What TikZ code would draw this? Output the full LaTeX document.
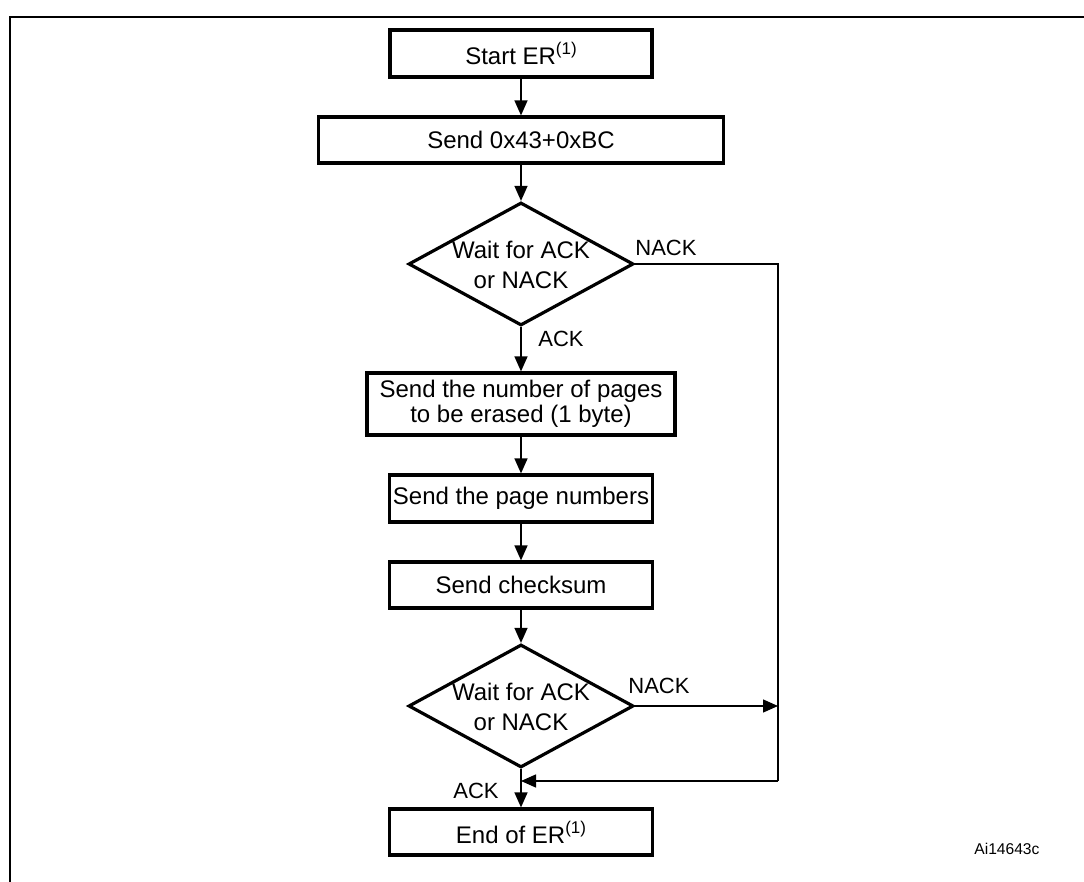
\documentclass[tikz,border=0pt]{standalone}
\usepackage{fontspec}
\setmainfont{Liberation Sans}
\usetikzlibrary{shapes.geometric,arrows.meta}
\newcommand\fcboxfont{\fontsize{12}{12.4}\selectfont}
\newcommand\fclabelfont{\fontsize{11}{13}\selectfont}
\newcommand\fcreffont{\fontsize{7.8}{9}\selectfont}
\newcommand\fcnote{\raisebox{0.42em}{\fontsize{8.5}{9}\selectfont(1)}}
\tikzset{
  stepbox/.style={draw, line width=1.6pt, inner sep=0pt, align=center, font=\fcboxfont},
  decision/.style={diamond, draw, line width=1.6pt, inner sep=0pt, minimum width=112.5pt, minimum height=61.5pt},
  flow/.style={-{Triangle[length=7.5pt,width=6.5pt]}, line width=0.7pt},
  lbl/.style={font=\fclabelfont, inner sep=0pt}
}
\begin{document}
\begin{tikzpicture}[x=0.5pt,y=-0.5pt]
    \useasboundingbox (0,0) rectangle (1084,882);
    \draw[line width=1pt] (10,882) -- (10,17) -- (1084,17);

    \node[stepbox, minimum width=131pt, minimum height=23.5pt] (start) at (521,53.5) {Start ER\fcnote};
    \node[stepbox, minimum width=202.5pt, minimum height=23pt] (sendcmd) at (521,140) {Send 0x43+0xBC};

    \node[decision] (wait1) at (521,264) {};
    \node[font=\fcboxfont, align=center, inner sep=0pt] (wait1txt) at (521,265) {Wait for ACK\\[2.6pt]or NACK};

    \node[stepbox, minimum width=154pt, minimum height=31pt] (npages) at (521,404) {Send the number of pages\\to be erased (1 byte)};
    \node[stepbox, minimum width=131.5pt, minimum height=23.5pt] (pagenums) at (521,498.5) {Send the page numbers};
    \node[stepbox, minimum width=131.5pt, minimum height=23pt] (checksum) at (521,585) {Send checksum};

    \node[decision] (wait2) at (521,706) {};
    \node[font=\fcboxfont, align=center, inner sep=0pt] (wait2txt) at (521,707) {Wait for ACK\\[2.6pt]or NACK};

    \node[stepbox, minimum width=131.5pt, minimum height=23pt] (finish) at (521,832) {End of ER\fcnote};

    \coordinate (corner) at (778,264);
    \coordinate (merge) at (521,781);

    % arrows
    \draw[flow] (start) -- (sendcmd);
    \draw[flow] (sendcmd) -- (wait1);
    \draw[flow] (wait1) -- (npages);
    \draw[flow] (npages) -- (pagenums);
    \draw[flow] (pagenums) -- (checksum);
    \draw[flow] (checksum) -- (wait2);
    \draw[flow] (wait2) -- (finish);
    \draw[line width=0.7pt] (wait1.east) -- (corner) -- (corner |- merge);
    \draw[flow] (corner |- merge) -- (merge);
    \draw[flow] (wait2.east) -- (wait2.east -| corner);

    \node[lbl, anchor=base west] (nack1) at (635,256) {NACK};
    \node[lbl, anchor=base west] (ack1) at (538,347) {ACK};
    \node[lbl, anchor=base west] (nack2) at (628,694) {NACK};
    \node[lbl, anchor=base west] (ack2) at (453,799) {ACK};
    \node[font=\fcreffont, inner sep=0pt, anchor=base west] (figref) at (974,855) {Ai14643c};
\end{tikzpicture}
\end{document}
